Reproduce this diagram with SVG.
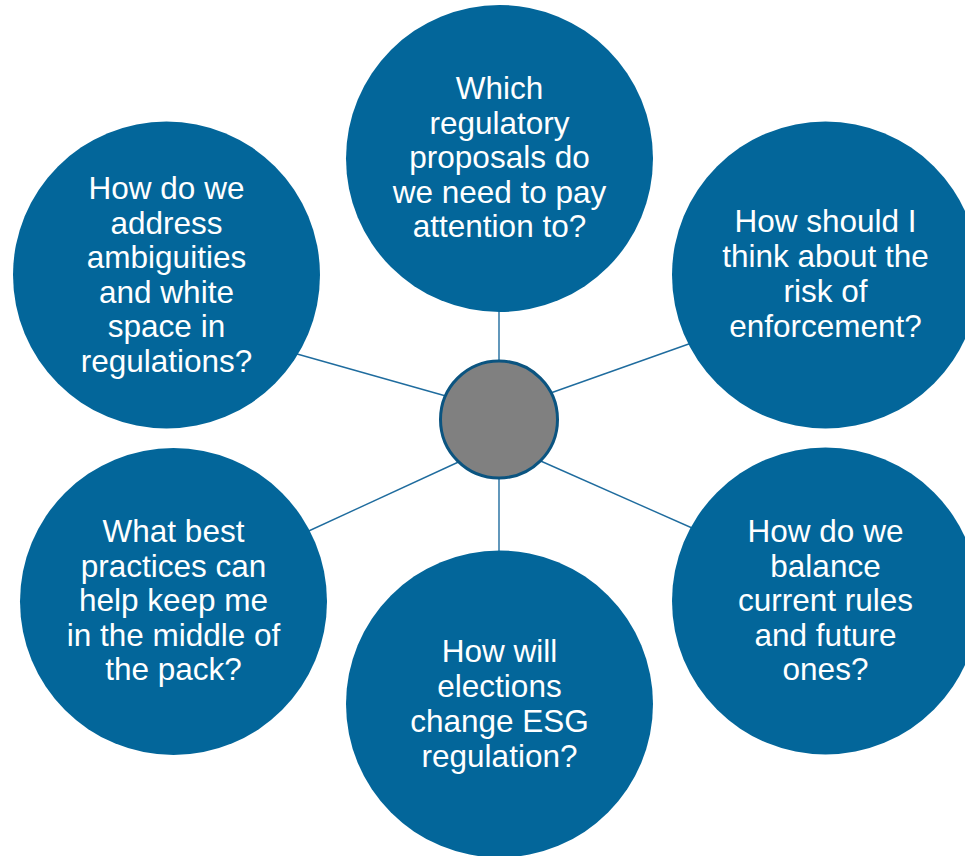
<svg xmlns="http://www.w3.org/2000/svg" width="965" height="856" viewBox="0 0 965 856">
  <style>
    .bubble { fill: #03669a; }
    .hub { fill: #808080; stroke: #0b5480; stroke-width: 3; }
    .spoke { stroke: #1f6c9e; stroke-width: 1.4; fill: none; }
    .label { font-family: "Liberation Sans", Arial, sans-serif; font-size: 31.5px; fill: #ffffff; text-anchor: middle; }
  </style>
  <rect width="965" height="856" fill="#ffffff"/>

  <!-- spokes from the hub to each question bubble -->
  <g id="connectors">
    <line class="spoke" x1="499" y1="300" x2="499" y2="370"/>
    <line class="spoke" x1="290" y1="352" x2="460" y2="400"/>
    <line class="spoke" x1="545" y1="395" x2="700" y2="340"/>
    <line class="spoke" x1="465" y1="459" x2="300" y2="535"/>
    <line class="spoke" x1="535" y1="458.5" x2="700" y2="531.5"/>
    <line class="spoke" x1="499" y1="470" x2="499" y2="560"/>
  </g>

  <!-- tspans are kept on one line so no trailing space skews the centring -->
  <g id="node-proposals">
    <circle class="bubble" cx="499.5" cy="158.5" r="153.5"/>
    <text class="label"><tspan x="499.5" y="99">Which</tspan><tspan x="499.5" y="133.5">regulatory</tspan><tspan x="499.5" y="168">proposals do</tspan><tspan x="499.5" y="202.5">we need to pay</tspan><tspan x="499.5" y="237">attention to?</tspan></text>
  </g>

  <g id="node-ambiguities">
    <circle class="bubble" cx="166.5" cy="275" r="153.5"/>
    <text class="label"><tspan x="166.5" y="199">How do we</tspan><tspan x="166.5" y="233.5">address</tspan><tspan x="166.5" y="268">ambiguities</tspan><tspan x="166.5" y="302.5">and white</tspan><tspan x="166.5" y="337">space in</tspan><tspan x="166.5" y="371.5">regulations?</tspan></text>
  </g>

  <g id="node-enforcement">
    <circle class="bubble" cx="825.5" cy="275" r="153.5"/>
    <text class="label"><tspan x="825.5" y="232">How should I</tspan><tspan x="825.5" y="267">think about the</tspan><tspan x="825.5" y="302">risk of</tspan><tspan x="825.5" y="337">enforcement?</tspan></text>
  </g>

  <g id="node-practices">
    <circle class="bubble" cx="173.5" cy="601.5" r="153.5"/>
    <text class="label"><tspan x="173.5" y="542">What best</tspan><tspan x="173.5" y="576.5">practices can</tspan><tspan x="173.5" y="611">help keep me</tspan><tspan x="173.5" y="645.5">in the middle of</tspan><tspan x="173.5" y="680">the pack?</tspan></text>
  </g>

  <g id="node-balance">
    <circle class="bubble" cx="825.5" cy="601" r="153.5"/>
    <text class="label"><tspan x="825.5" y="542">How do we</tspan><tspan x="825.5" y="576.5">balance</tspan><tspan x="825.5" y="611">current rules</tspan><tspan x="825.5" y="645.5">and future</tspan><tspan x="825.5" y="680">ones?</tspan></text>
  </g>

  <g id="node-elections">
    <circle class="bubble" cx="499.5" cy="704" r="153.5"/>
    <text class="label"><tspan x="499.5" y="662">How will</tspan><tspan x="499.5" y="697">elections</tspan><tspan x="499.5" y="732">change ESG</tspan><tspan x="499.5" y="767">regulation?</tspan></text>
  </g>

  <g id="node-hub">
    <circle class="hub" cx="499" cy="419.5" r="58.5"/>
  </g>
</svg>
